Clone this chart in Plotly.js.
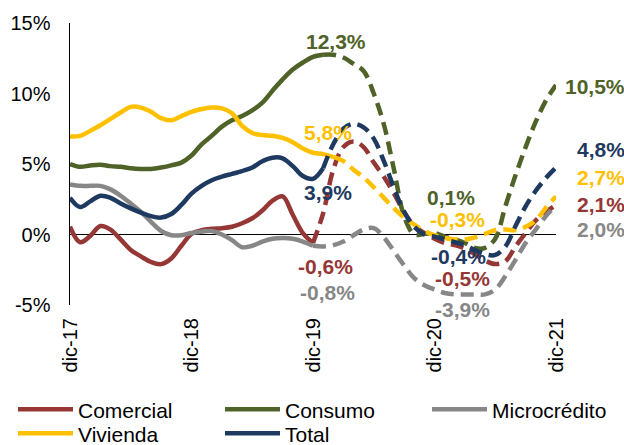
<!DOCTYPE html>
<html>
<head>
<meta charset="utf-8">
<script src="https://cdn.plot.ly/plotly-3.0.1.min.js"></script>
<style>
  html, body { margin: 0; padding: 0; background: #ffffff; }
  #chart { width: 624px; height: 445px; }
</style>
</head>
<body>
<div id="chart"></div>
<script>
// ---- Categories (monthly, dic-17 .. dic-21) ----
const months = [
  'dic-17','ene-18','feb-18','mar-18','abr-18','may-18','jun-18','jul-18','ago-18','sep-18','oct-18','nov-18',
  'dic-18','ene-19','feb-19','mar-19','abr-19','may-19','jun-19','jul-19','ago-19','sep-19','oct-19','nov-19',
  'dic-19','ene-20','feb-20','mar-20','abr-20','may-20','jun-20','jul-20','ago-20','sep-20','oct-20','nov-20',
  'dic-20','ene-21','feb-21','mar-21','abr-21','may-21','jun-21','jul-21','ago-21','sep-21','oct-21','nov-21',
  'dic-21'
];
const tickLabels = ['dic-17','dic-18','dic-19','dic-20','dic-21'];
const yTickValues = [-5, 0, 5, 10, 15];
const yTickLabels = ['-5%', '0%', '5%', '10%', '15%'];

// ---- Series values (% annual growth) ----
const comercial = [0.55,-0.55,-0.1,0.6,0.35,-0.35,-1.1,-1.55,-1.95,-2.1,-1.7,-0.8,
  0.05,0.3,0.4,0.45,0.55,0.8,1.15,1.7,2.4,2.7,1.4,0.1,
  -0.6,1.5,4.6,6.2,6.6,6.2,5.1,4.1,2.9,1.6,0.6,0.1,
  -0.3,-0.6,-0.75,-1.0,-1.4,-1.85,-2.1,-1.9,-0.85,0.1,1.0,1.6,2.1];
const consumo = [5.0,4.8,4.9,4.95,4.85,4.8,4.7,4.65,4.65,4.75,4.9,5.1,
  5.6,6.4,7.0,7.65,8.1,8.4,8.8,9.35,10.2,11.0,11.7,12.2,
  12.6,12.75,12.75,12.55,12.1,11.6,10.0,7.8,4.6,1.3,0.0,0.05,
  0.1,-0.15,-0.35,-0.6,-0.95,-0.95,-0.3,2.0,4.2,6.2,8.0,9.5,10.6];
const microcredito = [3.55,3.45,3.45,3.45,3.2,2.75,2.2,1.6,0.9,0.25,-0.05,-0.05,
  0.1,0.2,0.25,0.0,-0.4,-0.9,-0.8,-0.5,-0.3,-0.25,-0.3,-0.5,
  -0.8,-0.85,-0.75,-0.5,-0.05,0.35,0.45,-0.2,-1.2,-2.2,-3.1,-3.6,
  -3.9,-4.15,-4.25,-4.25,-4.25,-4.25,-3.9,-2.95,-1.8,-0.6,0.35,1.3,2.1];
const vivienda = [6.95,7.0,7.35,7.75,8.2,8.65,9.05,9.0,8.7,8.25,8.1,8.4,
  8.7,8.9,9.0,8.95,8.6,7.7,7.2,7.05,7.0,6.85,6.55,6.1,
  5.8,5.7,5.5,5.2,4.6,4.05,3.35,2.6,1.85,1.2,0.7,0.25,
  -0.05,-0.25,-0.35,-0.35,-0.2,0.05,0.3,0.35,0.3,0.55,1.0,1.9,2.7];
const total = [2.6,1.95,2.35,2.75,2.6,2.2,1.85,1.55,1.3,1.2,1.45,2.1,
  2.9,3.45,3.85,4.1,4.3,4.5,4.75,5.2,5.45,5.4,4.85,4.15,
  3.95,4.7,6.4,7.5,7.85,7.6,6.8,5.2,3.3,1.6,0.55,0.0,
  -0.15,-0.35,-0.55,-0.75,-1.1,-1.4,-1.45,-0.85,0.6,2.0,3.1,4.0,4.75];

// last month of observed data per series (after it: projection, dashed)
const seriesNames = ['Comercial','Consumo','Microcrédito','Vivienda','Total'];
const seriesValues = [comercial, consumo, microcredito, vivienda, total];
const lastObserved = [24, 25, 24, 26, 25];
const seriesColors = ['#953735','#4F6228','#878787','#FFC000','#1F3A60'];
// legend block of each series (row 1: Comercial, Consumo | Microcrédito; row 2: Vivienda, Total)
const seriesLegend = ['legend','legend','legend2','legend3','legend3'];

// ---- Data labels ----
const labelSeries = [1,3,4,0,2, 1,3,4,0,2, 1,4,3,0,2];
const labelMonth  = ['dic-19','dic-19','dic-19','dic-19','dic-19',
                     'dic-20','dic-20','dic-20','dic-20','dic-20',
                     'dic-21','dic-21','dic-21','dic-21','dic-21'];
const labelValue  = [12.3,5.8,3.9,-0.6,-0.8, 0.1,-0.3,-0.4,-0.5,-3.9, 10.5,4.8,2.7,2.1,2.0];
// pixel offsets of each label from its point
const labelDX = [23,15,15,12,14, 16.5,22.5,23.5,27.5,27.5, 7,19,19,19,19];
const labelDY = [20,20,-13,-23.5,-47, 36,19,-16.5,-37,-20, 0,17,19,0.5,-23];

const FONT = '"Liberation Sans", Arial, sans-serif';

const traces = [];
seriesNames.forEach((name, i) => {
  const vals = seriesValues[i];
  const k = lastObserved[i];
  traces.push({
    type: 'scatter', mode: 'lines', name: name,
    x: months.slice(0, k + 1), y: vals.slice(0, k + 1),
    line: { color: seriesColors[i], width: 4.5, shape: 'spline', smoothing: 1 },
    showlegend: true, legend: seriesLegend[i], hoverinfo: 'skip'
  });
});
seriesNames.forEach((name, i) => {
  const vals = seriesValues[i];
  const k = lastObserved[i];
  traces.push({
    type: 'scatter', mode: 'lines', name: name + ' (proy.)',
    x: months.slice(k), y: vals.slice(k),
    line: { color: seriesColors[i], width: 4.5, shape: 'spline', smoothing: 1, dash: '13px,7px' },
    showlegend: false, hoverinfo: 'skip'
  });
});

const fmt = v => v.toFixed(1).replace('.', ',') + '%';
const annotations = labelValue.map((v, j) => ({
  xref: 'x', yref: 'y', x: labelMonth[j], y: v,
  text: '<b>' + fmt(v) + '</b>',
  showarrow: false,
  xanchor: labelMonth[j] === 'dic-21' ? 'left' : 'center',
  yanchor: 'middle',
  xshift: labelDX[j], yshift: labelDY[j],
  font: { family: FONT, size: 21, color: seriesColors[labelSeries[j]] }
}));

const legendBase = {
  orientation: 'h', xref: 'container', yref: 'container',
  xanchor: 'left', yanchor: 'top',
  font: { family: FONT, size: 21, color: '#000000' },
  entrywidth: 137, entrywidthmode: 'pixels',
  traceorder: 'normal', itemwidth: 55, bgcolor: 'rgba(0,0,0,0)'
};

const layout = {
  width: 624, height: 445,
  margin: { l: 70, r: 68, t: 23, b: 140 },
  paper_bgcolor: '#ffffff', plot_bgcolor: '#ffffff',
  font: { family: FONT, size: 20, color: '#000000' },
  showlegend: true,
  legend:  Object.assign({}, legendBase, { x: 13 / 624,  y: 0.1255 }),
  legend2: Object.assign({}, legendBase, { x: 427 / 624, y: 0.1255 }),
  legend3: Object.assign({}, legendBase, { x: 13 / 624,  y: 0.0715 }),
  xaxis: {
    type: 'category', categoryorder: 'array', categoryarray: months,
    range: [0, months.length - 1],
    tickmode: 'array', tickvals: tickLabels, ticktext: tickLabels,
    tickangle: -90, ticks: '', showline: false, showgrid: false, zeroline: false,
    tickfont: { family: FONT, size: 20, color: '#000000' },
    ticklabelstandoff: 8, fixedrange: true
  },
  yaxis: {
    range: [-5, 15], tickmode: 'array', tickvals: yTickValues, ticktext: yTickLabels,
    ticks: '', showline: true, linecolor: '#000000', linewidth: 1.5,
    showgrid: false, zeroline: true, zerolinecolor: '#000000', zerolinewidth: 1.5,
    tickfont: { family: FONT, size: 20, color: '#000000' },
    ticklabelstandoff: 14, fixedrange: true
  },
  annotations: annotations
};

Plotly.newPlot('chart', traces, layout, { displayModeBar: false, staticPlot: true });
</script>
</body>
</html>
